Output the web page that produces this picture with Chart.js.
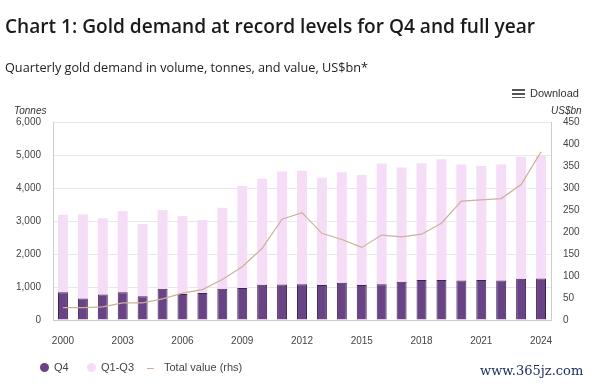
<!DOCTYPE html>
<html>
<head>
<meta charset="utf-8">
<script src="https://cdn.jsdelivr.net/npm/chart.js@4.4.1/dist/chart.umd.min.js"></script>
<style>
  body { margin: 0; background: #fff; font-family: "Open Sans", sans-serif; }
  #wrap { position: relative; width: 600px; height: 388px; overflow: hidden; }
  #title { position: absolute; left: 5px; top: 13px; font-size: 19.1px; font-weight: 600; color: #1a1a1a; white-space: nowrap; }
  #sub { position: absolute; left: 5px; top: 58px; font-size: 12.7px; color: #222; white-space: nowrap; }
  .unit { position: absolute; top: 105px; font-family: "Liberation Sans", Arial, sans-serif; font-size: 10px; font-style: italic; color: #333; }
  #dl { position: absolute; left: 512px; top: 87px; font-family: "Liberation Sans", Arial, sans-serif; font-size: 11px; color: #333; }
  #dl span.ic { display: inline-block; width: 13px; height: 9px; vertical-align: -1px; margin-right: 5px;
    background: linear-gradient(#555 0 2px, transparent 2px 4px, #555 4px 6px, transparent 6px 8px, #555 8px 10px); }
  #legend { position: absolute; left: 0; top: 361px; font-family: "Liberation Sans", Arial, sans-serif; font-size: 11px; color: #444; }
  #legend .it { position: absolute; white-space: nowrap; top: 0; }
  .dot { position: absolute; width: 9px; height: 9px; border-radius: 50%; top: 2px; }
  .swatch { position: absolute; top: 7px; width: 7px; height: 1px; background: #cdb197; }
  #wm { position: absolute; left: 480px; top: 363px; font-family: "DejaVu Serif", serif; font-size: 13px; color: #1d2c62; white-space: nowrap; }
  canvas { position: absolute; left: 0; top: 0; }
</style>
</head>
<body>
<div id="wrap">
  <canvas id="goldChart" width="600" height="388"></canvas>
  <div id="title">Chart 1: Gold demand at record levels for Q4 and full year</div>
  <div id="sub">Quarterly gold demand in volume, tonnes, and value, US$bn*</div>
  <div id="dl"><span class="ic"></span>Download</div>
  <div class="unit" style="left:14px">Tonnes</div>
  <div class="unit" style="left:551px">US$bn</div>
  <div id="legend">
    <div class="dot" style="left:40px;background:#6a4386"></div>
    <div class="it" style="left:54px">Q4</div>
    <div class="dot" style="left:87px;background:#f6ddf7"></div>
    <div class="it" style="left:101px">Q1-Q3</div>
    <div class="swatch" style="left:147px"></div>
    <div class="it" style="left:164px">Total value (rhs)</div>
  </div>
  <div id="wm">www.365jz.com</div>
</div>
<script>
var years = [2000, 2001, 2002, 2003, 2004, 2005, 2006, 2007, 2008, 2009, 2010, 2011, 2012,
             2013, 2014, 2015, 2016, 2017, 2018, 2019, 2020, 2021, 2022, 2023, 2024];

// full-year demand, tonnes
var totalTonnes = [3190, 3200, 3080, 3300, 2910, 3330, 3150, 3030, 3400, 4060, 4280, 4500, 4520,
                   4310, 4475, 4395, 4745, 4620, 4750, 4870, 4715, 4665, 4715, 4945, 4974];

// Q4 demand, tonnes
var q4Tonnes = [840, 650, 770, 840, 720, 950, 790, 820, 950, 970, 1070, 1075, 1085,
                1060, 1130, 1060, 1080, 1160, 1210, 1215, 1195, 1210, 1195, 1250, 1255];

// total value, US$bn (rhs)
var totalValue = [28, 28, 30, 39, 39, 48, 61, 69, 92, 121, 163, 229, 244,
                  197, 183, 165, 193, 189, 195, 220, 270, 273, 276, 308, 382];

var q1q3Tonnes = totalTonnes.map(function(t, i) { return t - q4Tonnes[i]; });

var tickFont = { family: "'Liberation Sans', Arial, sans-serif", size: 10 };

var ctx = document.getElementById('goldChart').getContext('2d');
var goldChart = new Chart(ctx, {
    type: 'bar',
    data: {
        labels: years.map(String),
        datasets: [
            {
                label: 'Total value (rhs)',
                type: 'line',
                data: totalValue,
                yAxisID: 'y2',
                borderColor: '#cdb197',
                borderWidth: 1.2,
                pointRadius: 0,
                tension: 0,
                order: 0
            },
            {
                label: 'Q4',
                data: q4Tonnes,
                backgroundColor: '#6a4386',
                borderColor: '#3e2152',
                borderWidth: 1,
                order: 1
            },
            {
                label: 'Q1-Q3',
                data: q1q3Tonnes,
                backgroundColor: '#f6ddf7',
                borderWidth: 0,
                order: 1
            }
        ]
    },
    options: {
        responsive: false,
        animation: false,
        datasets: { bar: { barPercentage: 0.5, categoryPercentage: 1 } },
        layout: { padding: { top: 122, bottom: 38, left: 0, right: 0 } },
        plugins: {
            legend: { display: false },
            tooltip: { enabled: false }
        },
        scales: {
            x: {
                stacked: true,
                grid: { display: false },
                border: { color: '#cccccc' },
                afterFit: function(scale) { scale.height = 30; },
                ticks: {
                    autoSkip: false,
                    maxRotation: 0,
                    color: '#444',
                    font: tickFont,
                    padding: 7,
                    callback: function(v, i) { return (years[i] - 2000) % 3 === 0 ? years[i] : ''; }
                }
            },
            y: {
                stacked: true,
                position: 'left',
                min: 0,
                max: 6000,
                afterFit: function(scale) { scale.width = 53; },
                grid: { color: '#e8e8e8', drawTicks: false },
                border: { color: '#cccccc' },
                ticks: {
                    stepSize: 1000,
                    color: '#444',
                    font: tickFont,
                    padding: 12,
                    callback: function(v) { return v.toLocaleString('en-US'); }
                }
            },
            y2: {
                position: 'right',
                min: 0,
                max: 450,
                afterFit: function(scale) { scale.width = 49; },
                grid: { display: false, drawTicks: false },
                border: { color: '#cccccc' },
                ticks: {
                    stepSize: 50,
                    color: '#444',
                    font: tickFont,
                    padding: 12
                }
            }
        }
    }
});
</script>
</body>
</html>
